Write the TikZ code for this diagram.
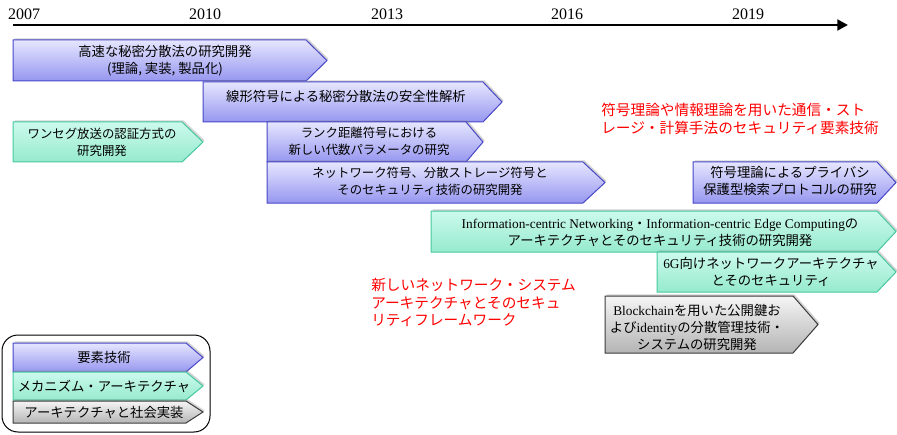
\documentclass[tikz,border=0pt]{standalone}
\usepackage{fontspec}
\setmainfont{Liberation Serif}
\newfontfamily\jpfont{Noto Sans CJK JP}
\usepackage{tikz}
\usepackage{xcolor}
\usetikzlibrary{shadows,arrows.meta}

\definecolor{elemTop}{RGB}{230,230,255}
\definecolor{elemBot}{RGB}{150,150,240}
\definecolor{elemLine}{RGB}{72,72,200}
\definecolor{archTop}{RGB}{204,250,236}
\definecolor{archBot}{RGB}{150,234,206}
\definecolor{archLine}{RGB}{70,200,160}
\definecolor{sociTop}{RGB}{245,245,245}
\definecolor{sociBot}{RGB}{180,180,180}
\definecolor{sociLine}{RGB}{60,60,60}

\newcommand{\latn}[1]{{\rmfamily #1}}

\begin{document}
\begin{tikzpicture}[x=0.75pt,y=0.75pt,yscale=-1,xscale=1,
  elembox/.style={draw=elemLine,line width=0.75pt,top color=elemTop,bottom color=elemBot,
    drop shadow={shadow xshift=1.2pt,shadow yshift=1.2pt,fill=black!50,opacity=.35}},
  archbox/.style={draw=archLine,line width=0.75pt,top color=archTop,bottom color=archBot,
    drop shadow={shadow xshift=1.2pt,shadow yshift=1.2pt,fill=black!50,opacity=.35}},
  socibox/.style={draw=sociLine,line width=0.75pt,top color=sociTop,bottom color=sociBot,
    drop shadow={shadow xshift=1.2pt,shadow yshift=1.2pt,fill=black!50,opacity=.35}},
  boxtxt/.style={align=center,inner sep=0pt,font=\jpfont\fontsize{10}{12.8}\selectfont},
  narrowtxt/.style={align=center,inner sep=0pt,font=\jpfont\fontsize{9.3}{12.8}\selectfont},
  redtxt/.style={align=left,inner sep=0pt,text=red,font=\jpfont\fontsize{11}{13.3}\selectfont},
  yeartxt/.style={inner sep=0pt,font=\fontsize{12}{14}\selectfont}
]
\useasboundingbox (0,0) rectangle (897,435);

%Timeline
\coordinate (tlStart) at (13,25);
\coordinate (tlEnd) at (848,25);
\draw [line width=2pt,-{Triangle[length=8pt,width=8pt]}] (tlStart) -- (tlEnd);

% Text Node
\node[yeartxt] (y2007) at (24,14) {2007};
\node[yeartxt] (y2010) at (205,14) {2010};
\node[yeartxt] (y2013) at (387,14) {2013};
\node[yeartxt] (y2016) at (567,14) {2016};
\node[yeartxt] (y2019) at (748,14) {2019};

%Shape: Pentagon
\draw [elembox] (13,40) -- (306,40) -- (327,60.5) -- (306,81) -- (13,81) -- cycle ;
%Shape: Pentagon
\draw [elembox] (203,82) -- (483,82) -- (502,102) -- (483,122) -- (203,122) -- cycle ;
%Shape: Pentagon
\draw [archbox] (13,122) -- (182,122) -- (203,142) -- (182,162) -- (13,162) -- cycle ;
%Shape: Pentagon
\draw [elembox] (267,122) -- (466,122) -- (483,142) -- (466,162) -- (267,162) -- cycle ;
%Shape: Pentagon
\draw [elembox] (267,162) -- (583,162) -- (605,182.5) -- (583,203) -- (267,203) -- cycle ;
%Shape: Pentagon
\draw [elembox] (693,162) -- (877,162) -- (896,182.5) -- (877,203) -- (693,203) -- cycle ;
%Shape: Pentagon
\draw [archbox] (431,211) -- (877,211) -- (896,231.5) -- (877,252) -- (431,252) -- cycle ;
%Shape: Pentagon
\draw [archbox] (657,252) -- (877,252) -- (896,272) -- (877,292) -- (657,292) -- cycle ;
%Shape: Pentagon
\draw [socibox] (605,296) -- (793,296) -- (818,324.5) -- (793,353) -- (605,353) -- cycle ;

% Text Node
\node[boxtxt] (secretShare) at (165,61) {高速な秘密分散法の研究開発\\(理論, 実装, 製品化)};
% Text Node
\node[boxtxt] (linearCode) at (346,96) {線形符号による秘密分散法の安全性解析};
% Text Node
\node[narrowtxt] (oneSeg) at (102,142) {ワンセグ放送の認証方式の\\研究開発};
% Text Node
\node[narrowtxt] (rankDist) at (369,141.5) {ランク距離符号における\\新しい代数パラメータの研究};
% Text Node
\node[narrowtxt] (netCode) at (430,181) {ネットワーク符号、分散ストレージ符号と\\そのセキュリティ技術の研究開発};
% Text Node
\node[boxtxt] (privSearch) at (790,181) {符号理論によるプライバシ\\保護型検索プロトコルの研究};
% Text Node
\node[boxtxt] (icnArch) at (660,233) {\latn{Information-centric Networking}・\latn{Information-centric Edge Computing}の\\アーキテクチャとそのセキュリティ技術の研究開発};
% Text Node
\node[boxtxt] (sixG) at (771,272) {\latn{6G}向けネットワークアーキテクチャ\\とそのセキュリティ};
% Text Node
\node[boxtxt] (blockChain) at (697,327.5) {\latn{Blockchain}を用いた公開鍵お\\よび\latn{identity}の分散管理技術・\\システムの研究開発};

% Text Node
\node[redtxt,anchor=west] (redElem) at (601,119) {符号理論や情報理論を用いた通信・スト\\レージ・計算手法のセキュリティ要素技術};
% Text Node
\node[redtxt,anchor=west] (redArch) at (371,302.5) {新しいネットワーク・システム\\アーキテクチャとそのセキュ\\リティフレームワーク};

%Shape: Rounded Rectangle
\draw [line width=0.75pt,rounded corners=12pt] (2,335) rectangle (210,432) ;
%Shape: Pentagon
\draw [elembox] (13,343) -- (186,343) -- (203,357.5) -- (186,372) -- (13,372) -- cycle ;
%Shape: Pentagon
\draw [archbox] (13,372) -- (186,372) -- (203,386) -- (186,400) -- (13,400) -- cycle ;
%Shape: Pentagon
\draw [socibox] (13,401) -- (186,401) -- (203,412) -- (186,423) -- (13,423) -- cycle ;

% Text Node
\node[boxtxt] (legElem) at (104,357.5) {要素技術};
% Text Node
\node[boxtxt] (legArch) at (104,386) {メカニズム・アーキテクチャ};
% Text Node
\node[boxtxt] (legSoci) at (104,412) {アーキテクチャと社会実装};

\end{tikzpicture}
\end{document}
